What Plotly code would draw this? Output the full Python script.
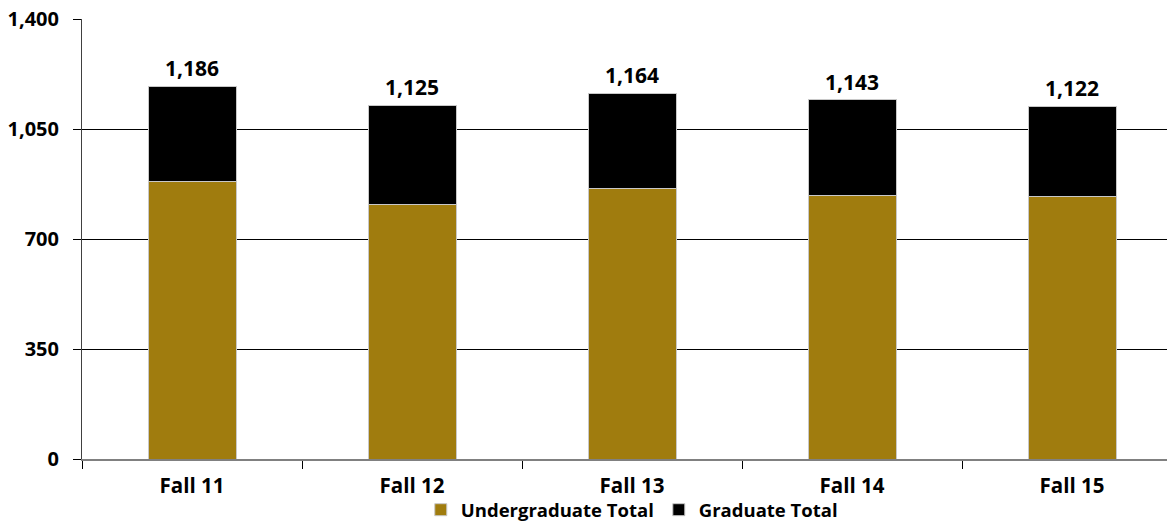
import plotly.graph_objects as go

categories = ["Fall 11", "Fall 12", "Fall 13", "Fall 14", "Fall 15"]
undergrad = [884, 809, 860, 840, 836]
totals = [1186, 1125, 1164, 1143, 1122]
graduate = [t - u for t, u in zip(totals, undergrad)]
total_labels = [f"{t:,}" for t in totals]
y_ticks = [0, 350, 700, 1050, 1400]

FONT = "Open Sans"
GOLD = "#A07C0E"

fig = go.Figure()
fig.add_trace(go.Bar(x=categories, y=undergrad, name="Undergraduate Total",
                     marker=dict(color=GOLD, line=dict(color="#C8C8C8", width=1))))
fig.add_trace(go.Bar(x=categories, y=graduate, name="Graduate Total",
                     marker=dict(color="#000000", line=dict(color="#C8C8C8", width=1))))

for cat, tot, lab in zip(categories, totals, total_labels):
    fig.add_annotation(x=cat, y=tot, text=lab, showarrow=False, yanchor="bottom",
                       yshift=2, font=dict(family=FONT, size=21, color="#000000", weight="bold"))

fig.update_layout(
    width=1175, height=522,
    barmode="stack", bargap=0.6,
    plot_bgcolor="white", paper_bgcolor="white",
    margin=dict(l=74, r=8, t=11, b=71),
    font=dict(family=FONT, size=19, color="#000000"),
    legend=dict(orientation="h", x=0.503, xanchor="center", yref="container",
                y=0.038, yanchor="middle", bgcolor="rgba(0,0,0,0)",
                font=dict(family=FONT, size=18.5, weight="bold"),
                itemwidth=30, traceorder="normal", tracegroupgap=0),
    showlegend=True,
)
fig.update_xaxes(range=[-0.5, 4.468], showline=True, linecolor="#808080", linewidth=1.5,
                 ticks="outside", tickson="boundaries", ticklen=8, tickcolor="#000000",
                 ticklabelstandoff=8, automargin=False, ticklabeloverflow="allow",
                 tickfont=dict(family=FONT, size=20.5, weight="bold"), showgrid=False)
fig.update_yaxes(range=[0, 1400], tickvals=y_ticks, tickformat=",d", showline=True,
                 linecolor="#404040", linewidth=1, ticks="outside", ticklen=8,
                 tickcolor="#000000", showgrid=True, gridcolor="#000000", gridwidth=1,
                 ticklabelstandoff=10, automargin=False, ticklabeloverflow="allow",
                 tickfont=dict(family=FONT, size=20, weight="bold"), zeroline=False)

fig.write_html("out.html")
